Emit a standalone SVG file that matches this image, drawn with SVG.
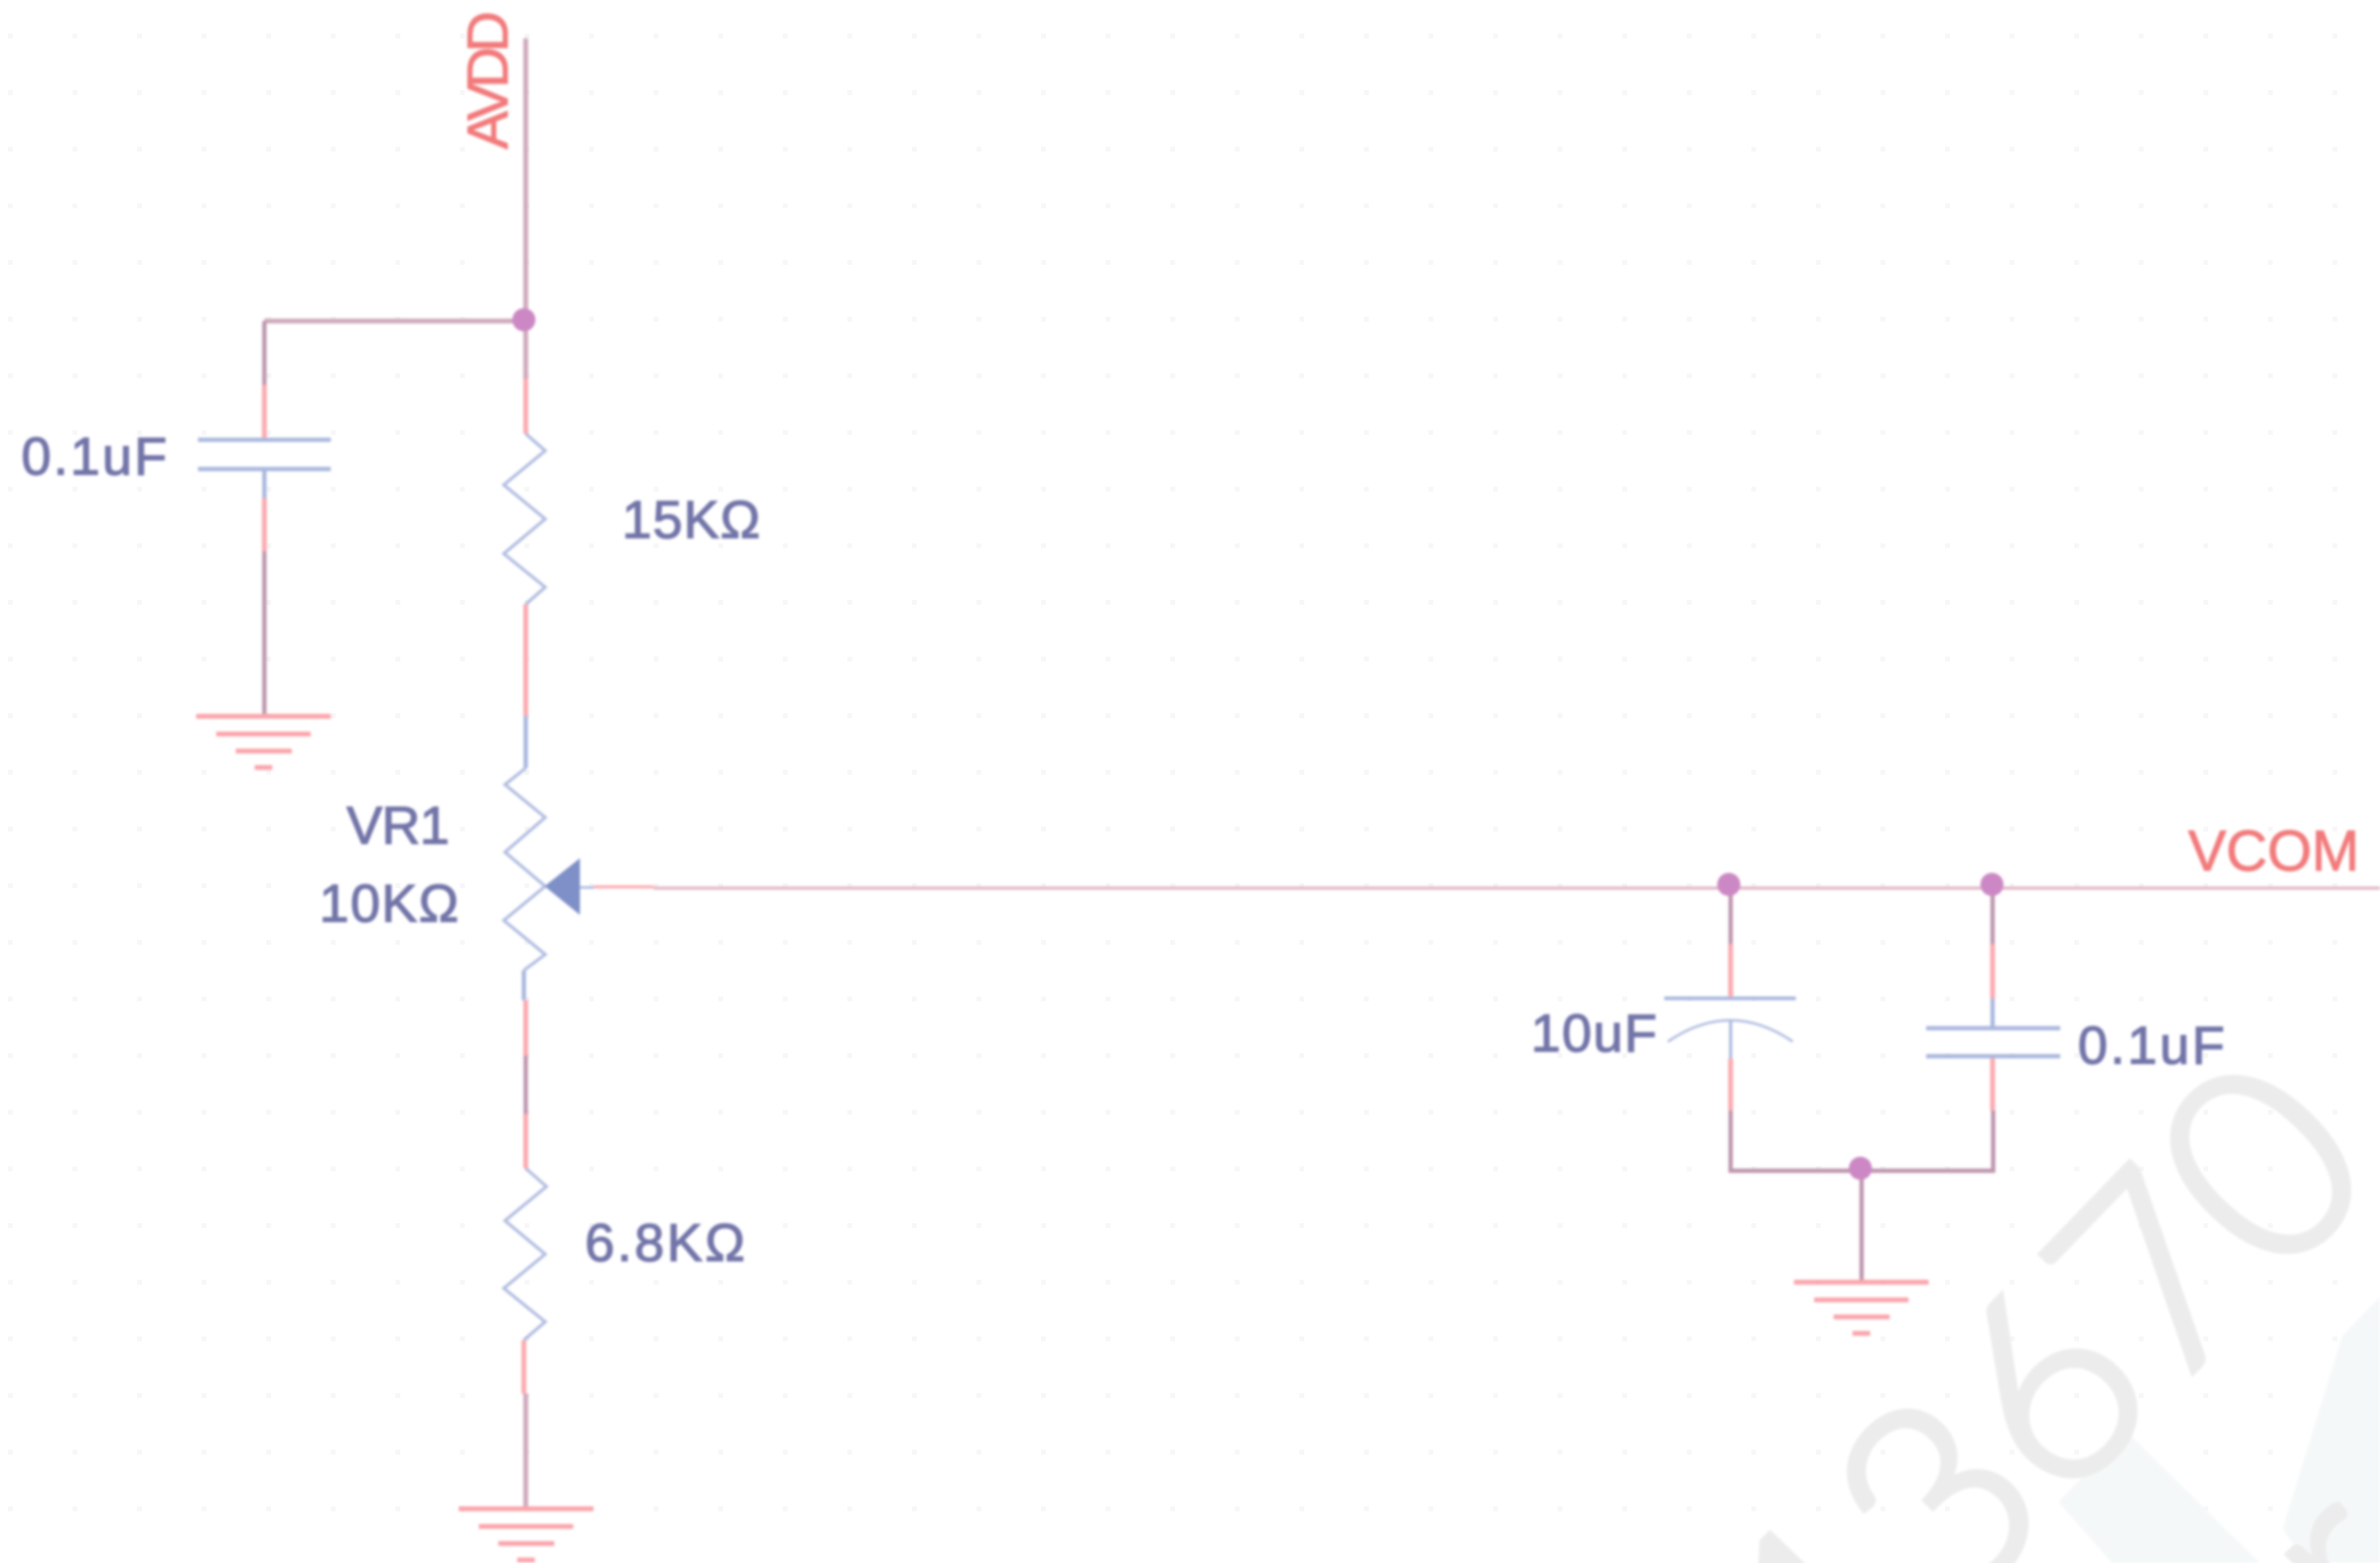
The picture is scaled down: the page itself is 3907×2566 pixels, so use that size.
<svg xmlns="http://www.w3.org/2000/svg" width="3907" height="2566" viewBox="0 0 3907 2566">
<style>
.m{stroke:#cfaabd;stroke-width:8;fill:none}
.d{stroke:#bd95ad;stroke-width:7;fill:none}
.r{stroke:#fcaab0;stroke-width:8;fill:none}
.b{stroke:#a9b7de;stroke-width:7;fill:none}
.z{stroke:#b0bce0;stroke-width:5;fill:none;stroke-linejoin:miter}
.t{stroke:#e0b4c4;stroke-width:5;fill:none}
.g{stroke:#fba6ac;stroke-width:8;fill:none}
.j{fill:#cc88c4}
.l{font-family:"Liberation Sans",Arial,sans-serif;font-size:88px;fill:#7274a8;stroke:#7274a8;stroke-width:2}
.n{font-family:"Liberation Sans",Arial,sans-serif;font-size:94px;fill:#f27a7c;stroke:#f27a7c;stroke-width:1.5}
.w{font-family:Lato,"Liberation Sans",sans-serif;font-weight:300;font-size:440px;fill:#ececec;stroke:#ececec;stroke-width:12}
</style>
<defs>
<pattern id="dots" x="13" y="55" width="106" height="93" patternUnits="userSpaceOnUse"><rect width="8" height="8" fill="#f7f7f8"/></pattern>
<filter id="soft" filterUnits="userSpaceOnUse" x="0" y="0" width="3907" height="2566"><feGaussianBlur stdDeviation="2.2"/></filter>
<g id="gnd">
<path class="g" d="M-111 0H110"/><path class="g" d="M-78 29H77"/><path class="g" d="M-46 57H46"/><path class="g" d="M-15 84H14"/>
</g>
</defs>
<rect width="3907" height="2566" fill="#fff"/>
<rect width="3907" height="2566" fill="url(#dots)"/>
<g id="watermark" filter="url(#soft)">
<polygon points="3490,2349 3379,2466 3467,2566 3710,2566" fill="#f5f8f9"/>
<polygon points="3907,2129 3845,2193 3747,2510 3787,2566 3907,2566" fill="#f5f8f9"/>
<text class="w" text-anchor="middle" transform="translate(3355 2277) rotate(-46)" y="158">13670</text>
<text class="w" transform="translate(3890 2730) rotate(-46)" y="0">r</text>
</g>
<g filter="url(#soft)">
<g id="connectors">
<path class="m" d="M863 63V622"/>
<path class="m" d="M860 527H434"/>
<path class="d" d="M434 527V632"/>
<path class="r" d="M434 632V722"/>
<path class="r" d="M434 818V905"/>
<path class="d" d="M434 905V1176"/>
<path class="r" d="M863 622V712"/>
<path class="r" d="M863 992V1175"/>
<path class="b" d="M863 1175V1261"/>
<path class="b" d="M860 1593V1642"/>
<path class="r" d="M863 1642V1733"/>
<path class="d" d="M863 1733V1829"/>
<path class="r" d="M863 1829V1918"/>
<path class="r" d="M860 2200V2288"/>
<path class="m" d="M863 2288V2477"/>
<path class="b" style="stroke-width:4" d="M952 1457H975"/>
<path class="r" d="M975 1456H1073" style="stroke-width:5"/>
<path class="t" d="M1073 1458H3907"/>
<path class="d" d="M2841 1458V1550"/>
<path class="r" d="M2841 1550V1639"/>
<path class="r" d="M2841 1738V1823"/>
<path class="d" d="M2841 1823V1922H3272V1823"/>
<path class="d" d="M3271 1458V1550"/>
<path class="r" d="M3271 1550V1639"/>
<path class="b" d="M3271 1639V1688"/>
<path class="r" d="M3271 1734V1823"/>
<path class="d" d="M3056 1918V2105"/>
</g>
<g id="j1"><circle class="j" cx="860" cy="525" r="19"/></g>
<g id="j2"><circle class="j" cx="2838" cy="1452" r="19"/></g>
<g id="j3"><circle class="j" cx="3270" cy="1452" r="19"/></g>
<g id="j4"><circle class="j" cx="3054" cy="1918" r="19"/></g>
<g id="c1"><path class="b" d="M325 722H543M325 770H543"/><path class="b" d="M434 770V818"/></g>
<g id="c1-label"><text class="l" x="35" y="779" textLength="239">0.1uF</text></g>
<g id="r1"><path class="z" d="M863 712L895 740L827 796L895 852L827 909L895 964L863 992"/></g>
<g id="r1-label"><text class="l" x="1021" y="883" textLength="227">15KΩ</text></g>
<g id="vr1"><path class="z" d="M863 1261L829 1288L895 1342L829 1399L895 1455L827 1511L895 1567L860 1593"/><polygon points="894,1455 952,1409 952,1502" fill="#7f90c8"/></g>
<g id="vr1-label"><text class="l" x="569" y="1385" textLength="169">VR1</text><text class="l" x="524" y="1513" textLength="229">10KΩ</text></g>
<g id="r2"><path class="z" d="M863 1918L897 1948L829 2004L895 2059L827 2115L895 2170L860 2200"/></g>
<g id="r2-label"><text class="l" x="960" y="2070" textLength="263">6.8KΩ</text></g>
<g id="gnd1"><use href="#gnd" x="433" y="1176"/></g>
<g id="gnd2"><use href="#gnd" x="864" y="2477"/></g>
<g id="gnd3"><use href="#gnd" x="3056" y="2105"/></g>
<g id="c2"><path class="b" style="stroke-width:6" d="M2732 1639H2948"/><path class="z" style="stroke-width:4" d="M2738 1710Q2840 1640 2943 1710"/><path class="b" style="stroke-width:5" d="M2841 1675V1738"/></g>
<g id="c2-label"><text class="l" x="2513" y="1726" textLength="207">10uF</text></g>
<g id="c3"><path class="b" d="M3162 1688H3382M3162 1734H3382"/></g>
<g id="c3-label"><text class="l" x="3411" y="1746" textLength="241">0.1uF</text></g>
<g id="avdd"><text class="n" transform="translate(833 245) rotate(-90)" textLength="227">AVDD</text></g>
<g id="vcom"><text class="n" x="3592" y="1429" textLength="281">VCOM</text></g>
</g>
</svg>
